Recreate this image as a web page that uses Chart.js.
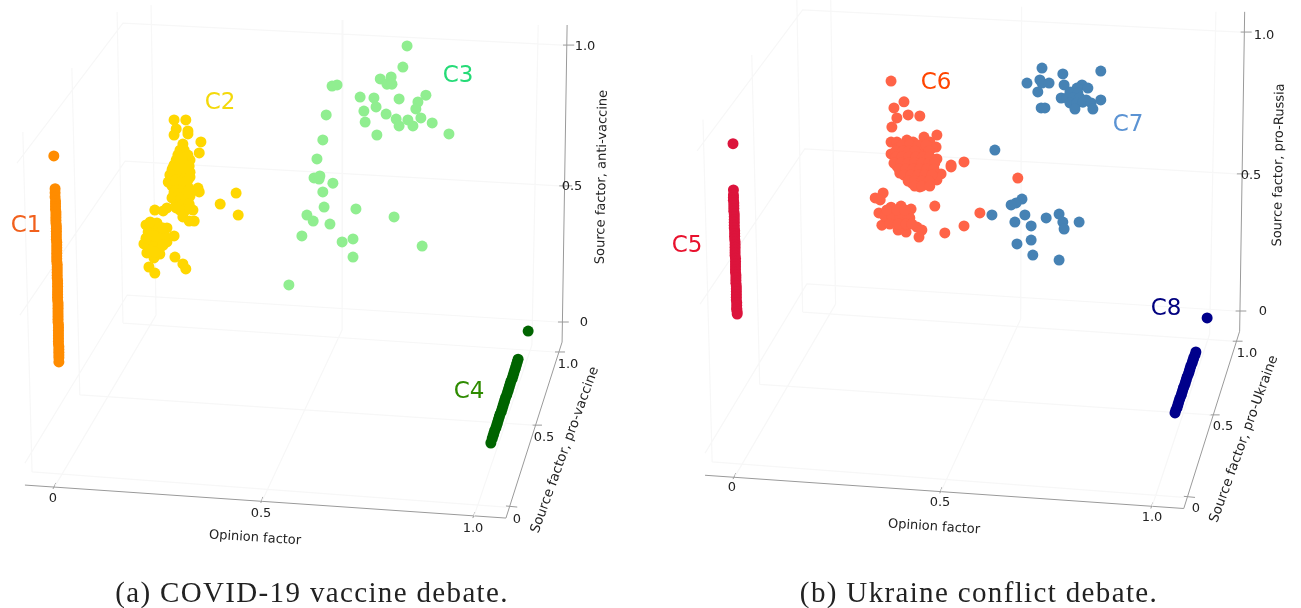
<!DOCTYPE html>
<html><head><meta charset="utf-8">
<script src="https://cdn.jsdelivr.net/npm/chart.js@4"></script>
<style>
html,body{margin:0;padding:0;background:#fff;overflow:hidden}
#wrap{position:relative;width:1301px;height:608px}
canvas{position:absolute;top:0}
</style></head><body>
<div id="wrap"><canvas id="a" width="650" height="608" style="left:0"></canvas><canvas id="b" width="651" height="608" style="left:650px"></canvas></div>
<script>
// Values, in axis-plane units [opinion, source]
const c1=[[.002,.604],[.005,.485],[.005,.47],[.005,.455],[.006,.44],[.006,.43],[.006,.42],[.006,.41],[.007,.40],[.007,.39],[.007,.38],[.007,.37],[.007,.36],[.008,.35],[.008,.34],[.008,.33],[.008,.32],[.008,.31],[.008,.30],[.009,.29],[.009,.28],[.009,.27],[.009,.26],[.009,.25],[.009,.24],[.009,.23],[.009,.22],[.010,.21],[.010,.20],[.010,.19],[.010,.18],[.010,.17],[.010,.16],[.011,.15],[.011,.14],[.011,.13],[.011,.12],[.011,.11],[.011,.10],[.011,.09],[.011,.08],[.012,.07],[.012,.06],[.012,.05],[.012,.04],[.012,.03],[.012,.02],[.012,.01],[.012,0],[.013,-.01],[.013,-.02],[.013,-.03],[.013,-.04],[.013,-.05],[.013,-.06],[.013,-.07],[.013,-.08],[.014,-.09],[.014,-.10],[.014,-.11],[.014,-.12],[.014,-.13],[.014,-.145]];
const c2=[[.289,.735],[.317,.735],[.294,.702],[.289,.68],[.322,.695],[.322,.684],[.353,.655],[.349,.615],[.31,.647],[.303,.625],[.313,.625],[.298,.607],[.31,.604],[.322,.607],[.294,.589],[.303,.585],[.317,.585],[.327,.589],[.289,.571],[.301,.567],[.313,.567],[.325,.567],[.284,.553],[.296,.549],[.308,.549],[.32,.549],[.327,.545],[.279,.535],[.291,.531],[.306,.531],[.317,.531],[.327,.527],[.275,.509],[.289,.513],[.303,.513],[.315,.513],[.284,.495],[.296,.491],[.31,.491],[.322,.491],[.289,.473],[.303,.473],[.317,.473],[.327,.48],[.346,.487],[.349,.473],[.286,.455],[.298,.455],[.313,.455],[.327,.458],[.294,.433],[.306,.433],[.317,.433],[.303,.407],[.317,.407],[.334,.407],[.31,.382],[.325,.367],[.337,.367],[.243,.407],[.263,.404],[.272,.415],[.437,.469],[.399,.429],[.442,.389],[.222,.353],[.248,.36],[.272,.342],[.236,.342],[.255,.345],[.227,.327],[.248,.324],[.263,.316],[.289,.313],[.272,.291],[.217,.284],[.236,.298],[.251,.291],[.239,.273],[.255,.269],[.224,.251],[.255,.247],[.241,.233],[.229,.2],[.243,.178],[.291,.236],[.31,.211],[.317,.193],
[.308,.589],[.286,.56],[.298,.56],[.31,.56],[.322,.56],[.282,.535],[.279,.516],[.294,.516],[.31,.516],[.322,.516],[.291,.473],[.308,.473],[.32,.473],[.284,.451],[.305,.451],[.32,.451],[.298,.429],[.31,.429],[.325,.429],[.294,.415],[.327,.415],[.232,.313],[.243,.313],[.222,.305],[.255,.305],[.232,.262],[.267,.313],[.263,.28],[.243,.255],[.263,.342],[.232,.364]];
const c3=[[.845,1.004],[.835,.927],[.807,.891],[.781,.884],[.797,.865],[.809,.865],[.666,.858],[.678,.862],[.733,.818],[.766,.815],[.826,.811],[.89,.825],[.871,.8],[.866,.775],[.771,.782],[.742,.767],[.795,.756],[.652,.753],[.819,.738],[.847,.735],[.878,.742],[.745,.727],[.905,.724],[.826,.713],[.859,.713],[.773,.68],[.945,.684],[.644,.662],[.63,.593],[.623,.524],[.635,.52],[.637,.531],[.668,.505],[.644,.473],[.647,.418],[.723,.411],[.814,.382],[.606,.389],[.621,.367],[.661,.356],[.594,.313],[.716,.302],[.69,.291],[.881,.276],[.716,.236],[.563,.135]];
const c4=[[1.134,-.033],[1.110,-.135],[1.108,-.145],[1.106,-.155],[1.104,-.165],[1.102,-.175],[1.100,-.185],[1.098,-.195],[1.096,-.205],[1.093,-.215],[1.091,-.225],[1.089,-.235],[1.087,-.245],[1.085,-.255],[1.083,-.265],[1.080,-.275],[1.078,-.285],[1.076,-.295],[1.074,-.305],[1.072,-.315],[1.070,-.325],[1.067,-.335],[1.065,-.345],[1.063,-.355],[1.061,-.365],[1.059,-.375],[1.057,-.385],[1.054,-.395],[1.052,-.405],[1.050,-.415],[1.048,-.425],[1.045,-.44]];
const c5=[[0,.604],[.001,.437],[.001,.419],[.001,.41],[.001,.40],[.002,.39],[.002,.38],[.002,.37],[.002,.36],[.003,.35],[.003,.34],[.003,.33],[.003,.32],[.003,.31],[.003,.30],[.004,.29],[.004,.28],[.004,.27],[.004,.26],[.005,.25],[.005,.24],[.005,.23],[.005,.22],[.005,.21],[.005,.20],[.006,.19],[.006,.18],[.006,.17],[.006,.16],[.006,.15],[.006,.14],[.007,.13],[.007,.12],[.007,.11],[.007,.10],[.008,.09],[.008,.08],[.008,.07],[.008,.06],[.008,.05],[.008,.04],[.009,.03],[.009,.02],[.009,.01],[.009,.005],[.01,-.003],[.01,-.011]];
const c6=[[.379,.83],[.41,.755],[.386,.733],[.42,.708],[.393,.697],[.448,.704],[.381,.664],[.489,.635],[.487,.592],[.489,.549],[.379,.567],[.523,.527],[.523,.52],[.554,.538],[.499,.495],[.489,.473],[.448,.448],[.379,.61],[.393,.61],[.417,.617],[.432,.61],[.458,.628],[.472,.61],[.396,.588],[.412,.588],[.429,.588],[.446,.588],[.463,.588],[.477,.588],[.4,.567],[.417,.567],[.434,.567],[.468,.567],[.396,.545],[.412,.545],[.429,.545],[.446,.545],[.46,.545],[.393,.523],[.41,.523],[.427,.523],[.444,.523],[.46,.523],[.477,.523],[.408,.502],[.424,.502],[.441,.502],[.458,.502],[.475,.502],[.4,.498],[.429,.48],[.448,.48],[.468,.48],[.429,.462],[.444,.462],[.46,.462],[.472,.462],[.36,.426],[.341,.408],[.353,.401],[.35,.354],[.379,.375],[.403,.379],[.427,.368],[.369,.354],[.393,.354],[.412,.354],[.424,.336],[.357,.31],[.372,.329],[.388,.329],[.405,.329],[.396,.292],[.415,.285],[.408,.31],[.441,.303],[.453,.292],[.446,.267],[.484,.379],[.508,.282],[.554,.307],[.592,.354],[.683,.48],
[.405,.599],[.424,.599],[.444,.599],[.463,.599],[.391,.578],[.408,.578],[.422,.578],[.436,.578],[.47,.578],[.391,.556],[.405,.556],[.422,.556],[.439,.556],[.456,.556],[.472,.556],[.386,.534],[.403,.534],[.42,.534],[.436,.534],[.453,.534],[.47,.534],[.484,.534],[.398,.513],[.415,.513],[.432,.513],[.448,.513],[.465,.513],[.482,.513],[.41,.491],[.427,.491],[.444,.491],[.46,.491],[.477,.491],[.42,.469],[.436,.469],[.453,.469],[.47,.469],[.436,.451],[.453,.451],[.472,.451],[.364,.343],[.381,.343],[.4,.343],[.42,.343],[.376,.314],[.396,.314],[.415,.314],[.429,.314],[.369,.365],[.393,.365],[.412,.365]];
const c7=[[.741,.877],[.791,.856],[.882,.866],[.705,.823],[.736,.834],[.741,.823],[.758,.823],[.794,.816],[.731,.791],[.837,.816],[.851,.805],[.825,.805],[.808,.791],[.827,.787],[.787,.769],[.801,.769],[.815,.769],[.832,.769],[.847,.762],[.808,.751],[.825,.751],[.839,.754],[.859,.751],[.882,.762],[.82,.729],[.863,.729],[.739,.733],[.748,.733],[.628,.581],[.693,.404],[.679,.39],[.667,.383],[.621,.347],[.7,.347],[.676,.321],[.715,.307],[.751,.336],[.782,.35],[.791,.321],[.794,.296],[.83,.321],[.715,.256],[.681,.242],[.719,.202],[.782,.184]];
const c8=[[1.137,-.025],[1.110,-.148],[1.108,-.158],[1.105,-.168],[1.103,-.178],[1.101,-.188],[1.098,-.198],[1.096,-.208],[1.094,-.218],[1.092,-.228],[1.089,-.238],[1.087,-.248],[1.085,-.258],[1.083,-.268],[1.080,-.278],[1.078,-.288],[1.076,-.298],[1.074,-.308],[1.071,-.318],[1.069,-.328],[1.067,-.338],[1.065,-.348],[1.062,-.358],[1.060,-.368]];

// Box wireframe and axes, same units; null breaks a stroke
const gridLines=[[-.086,.578],[.167,1.087],[1.217,1.007],null,[-.079,.025],[.172,.585],[1.208,.495],null,[-.067,-.513],[.177,.098],[1.205,0],null,[-.072,.691],[-.05,-.545],null,[.045,.924],[.064,-.265],null,[.153,1.127],[.167,-.004],null,[.234,1.153],[.246,.025],null,[.692,1.098],[.69,-.029],null,[1.158,1.08],[1.143,-.084],null,[.167,-.004],[1.198,-.109],null,[.064,-.265],[1.146,-.375],null,[-.05,-.545],[1.081,-.673],null,[.246,.025],[.005,-.596],null,[.69,-.029],[.499,-.651],null,[1.143,-.084],[1.005,-.705]];
const axisLines=[[-.067,-.593],[1.081,-.713],[1.215,-.073],[1.227,1.08],null,[0,-.607],[.007,-.585],null,[.496,-.658],[.501,-.636],null,[1.002,-.713],[1.007,-.691],null,[1.198,-.109],[1.222,-.109],null,[1.143,-.375],[1.167,-.375],null,[1.081,-.669],[1.108,-.673],null,[1.217,1.007],[1.244,1.007],null,[1.208,.495],[1.239,.495],null,[1.205,0],[1.231,0]];

const tickLabels=['0','0.5','1.0'];
const opinionTitle='Opinion factor';

const pts=a=>a.map(p=>p?{x:p[0],y:p[1]}:{x:null,y:null});
const serif='"Liberation Serif","DejaVu Serif",serif', sans='"DejaVu Sans",sans-serif';
function scatter(d,color,r){return {data:pts(d),backgroundColor:color,borderWidth:0,pointRadius:r,pointHoverRadius:r,showLine:false,order:1};}
function lines(d,color,w){return {data:pts(d),borderColor:color,borderWidth:w,pointRadius:0,showLine:true,spanGaps:false,order:5};}
function label(t,x,y,size,color,rot,font,sp){return {t,x,y,size,color,rot:rot||0,font:font||sans,sp:sp||'0px'};}
const texts=(dx,dy,depthTitle,vertTitle,vx,vy)=>[
 ...tickLabels.map((t,i)=>label(t,[53,261,473][i]+dx,[499,514,529][i]+dy,13,'#222')),
 ...tickLabels.map((t,i)=>label(t,[517,544,568][i]+dx,[520,438,365][i]+dy,13,'#222')),
 ...tickLabels.map((t,i)=>label(t,[584,572,585][i]+dx,[323,187,47][i]+dy,13,'#222')),
 label(opinionTitle,255+dx,538+dy,13,'#222',3.6),
 label(depthTitle,565+dx,450+dy,13.4,'#222',-70),
 label(vertTitle,vx,vy,13,'#222',-89)
];
function textPlugin(items,offset){return {id:'txt',afterDraw(c){const g=c.ctx;items.forEach(o=>{g.save();g.translate(o.x-offset,o.y);g.rotate(o.rot*Math.PI/180);g.font=o.size+'px '+o.font;g.letterSpacing=o.sp;g.fillStyle=o.color;g.textAlign='center';g.textBaseline='middle';g.fillText(o.t,0,0);g.restore();});}};}
function panel(id,L,W,cal,sets,items){
 const bx=cal.x1-cal.x0, by=cal.y0-cal.y1;
 new Chart(document.getElementById(id),{type:'scatter',data:{datasets:sets},plugins:[textPlugin(items,L)],options:{
  responsive:false,animation:false,devicePixelRatio:1,events:[],layout:{padding:0,autoPadding:false},
  plugins:{legend:{display:false},tooltip:{enabled:false},title:{display:false}},
  scales:{x:{type:'linear',display:false,min:(L-cal.x0)/bx,max:(L+W-cal.x0)/bx},y:{type:'linear',display:false,min:(cal.y0-608)/by,max:cal.y0/by}}}});
}
const grid='#f7f7f7', axis='#9a9a9a';
panel('a',0,650,{x0:53,x1:472,y0:322,y1:47},[
 lines(gridLines,grid,1.2),lines(axisLines,axis,1),
 scatter(c1,'#FF8C00',5.5),scatter(c2,'#FFD700',5.5),scatter(c3,'#90EE90',5.5),scatter(c4,'#006400',5.5)
],[...texts(0,0,'Source factor, pro-vaccine','Source factor, anti-vaccine',602,177),
 label('C1',26,226,23,'#F1601C'),label('C2',220,103,23,'#F4D90A'),label('C3',458,76,23,'#25DB77'),label('C4',469,392,23,'#2E8B00'),
 label('(a) COVID-19 vaccine debate.',312,594,29,'#222',0,serif,'1.35px')]);
panel('b',650,651,{x0:733,x1:1150,y0:311,y1:34},[
 lines(gridLines,grid,1.2),lines(axisLines,axis,1),
 scatter(c5,'#DC143C',5.5),scatter(c6,'#FF6347',5.5),scatter(c7,'#4682B4',5.5),scatter(c8,'#00008B',5.5)
],[...texts(679,-11,'Source factor, pro-Ukraine','Source factor, pro-Russia',1279,165),
 label('C5',687,246,23,'#E8112D'),label('C6',936,83,23,'#FF4500'),label('C7',1128,125,23,'#5B93D3'),label('C8',1166,309,23,'#00007F'),
 label('(b) Ukraine conflict debate.',979,594,29,'#222',0,serif,'1.35px')]);
</script></body></html>
